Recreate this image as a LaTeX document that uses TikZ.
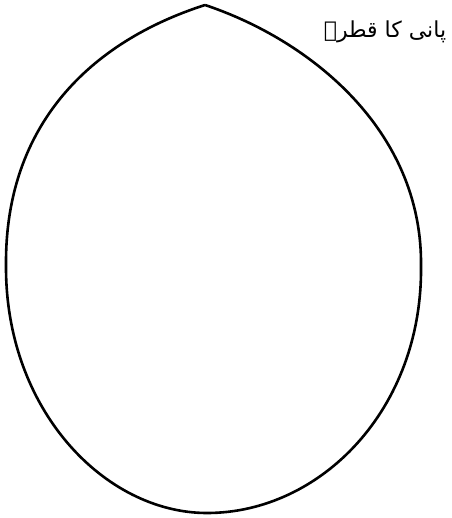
\documentclass[tikz,border=0pt]{standalone}
\usepackage{fontspec}
\newfontfamily\urdufont[Script=Arabic]{DejaVu Sans}
\TeXXeTstate=1
\tikzset{
    dropline/.style={draw=black, line width=1.3pt},
    droplabel/.style={font=\urdufont\fontsize{11}{13}\selectfont, inner sep=0pt}
}
\begin{document}
\begin{tikzpicture}[x=0.5pt, y=-0.5pt]
    \useasboundingbox (0,0) rectangle (451,518);
    % the drop
    \coordinate (top) at (205,5);
    \coordinate (left) at (6,265);
    \coordinate (bottom) at (207,513);
    \coordinate (right) at (421,265);
    \draw [dropline] (top) .. controls (90,42) and (5,125) .. (left)
        .. controls (5,410) and (105,513) .. (bottom)
        .. controls (320,513) and (423,410) .. (right)
        .. controls (422,130) and (310,40) .. (top);
    % caption
    \node (label) [droplabel] at (385,32) {\beginR پانی کا قطرہ\endR};
\end{tikzpicture}
\end{document}
